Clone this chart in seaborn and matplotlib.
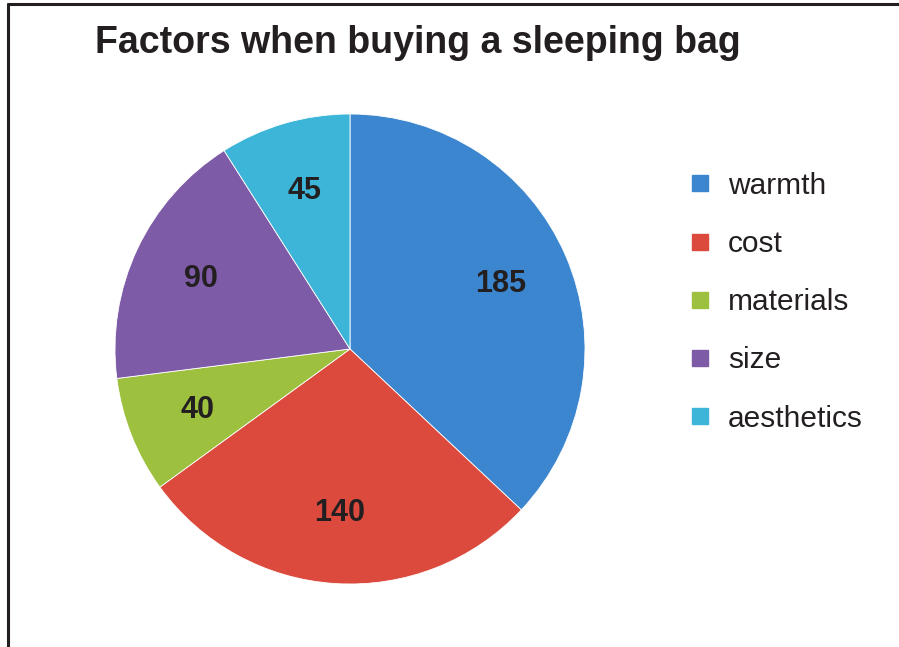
import matplotlib
matplotlib.use("Agg")
import matplotlib.pyplot as plt
from matplotlib.lines import Line2D
import seaborn as sns

categories = ["warmth", "cost", "materials", "size", "aesthetics"]
values = [185, 140, 40, 90, 45]
colors = ["#3C86CF", "#DB4A3C", "#9DC03E", "#7D5BA6", "#3DB5D8"]
title = "Factors when buying a sleeping bag"

sns.set_theme(style="white")
plt.rcParams["font.family"] = ["Liberation Sans", "DejaVu Sans"]

fig = plt.figure(figsize=(8.99, 6.47), dpi=100)
W, H = 899, 647
cx, cy, r = 350, 349, 235
ax = fig.add_axes([(cx - r) / W, (H - cy - r) / H, 2 * r / W, 2 * r / H])

wedges, texts = ax.pie(
    values, colors=colors, startangle=90, counterclock=False,
    labels=[str(v) for v in values], labeldistance=0.70,
    wedgeprops=dict(edgecolor="white", linewidth=0.6),
    textprops=dict(fontsize=22, fontweight="bold", color="#231F20",
                   ha="center", va="center"),
    radius=1.0,
)
ax.set_xlim(-1, 1)
ax.set_ylim(-1, 1)
ax.set_aspect("equal")
ax.axis("off")

fig.text(418 / W, 1 - 43 / H, title, ha="center", va="center",
         fontsize=27, fontweight="bold", color="#231F20")

handles = [Line2D([0], [0], marker="s", linestyle="none", markersize=11,
                  markerfacecolor=c, markeredgecolor=c) for c in colors]
fig.legend(handles, categories, loc="upper left",
           bbox_to_anchor=(658 / W, 1 - 145 / H), frameon=False,
           fontsize=21.5, labelspacing=1.01, handletextpad=0.44,
           handlelength=1.0, labelcolor="#231F20")

fig.add_artist(Line2D([8 / W, 1.0], [1 - 4 / H, 1 - 4 / H],
                      color="#231F20", linewidth=2.2, transform=fig.transFigure))
fig.add_artist(Line2D([8 / W, 8 / W], [0, 1 - 4 / H],
                      color="#231F20", linewidth=2.2, transform=fig.transFigure))

fig.savefig("out.png", dpi=100)
